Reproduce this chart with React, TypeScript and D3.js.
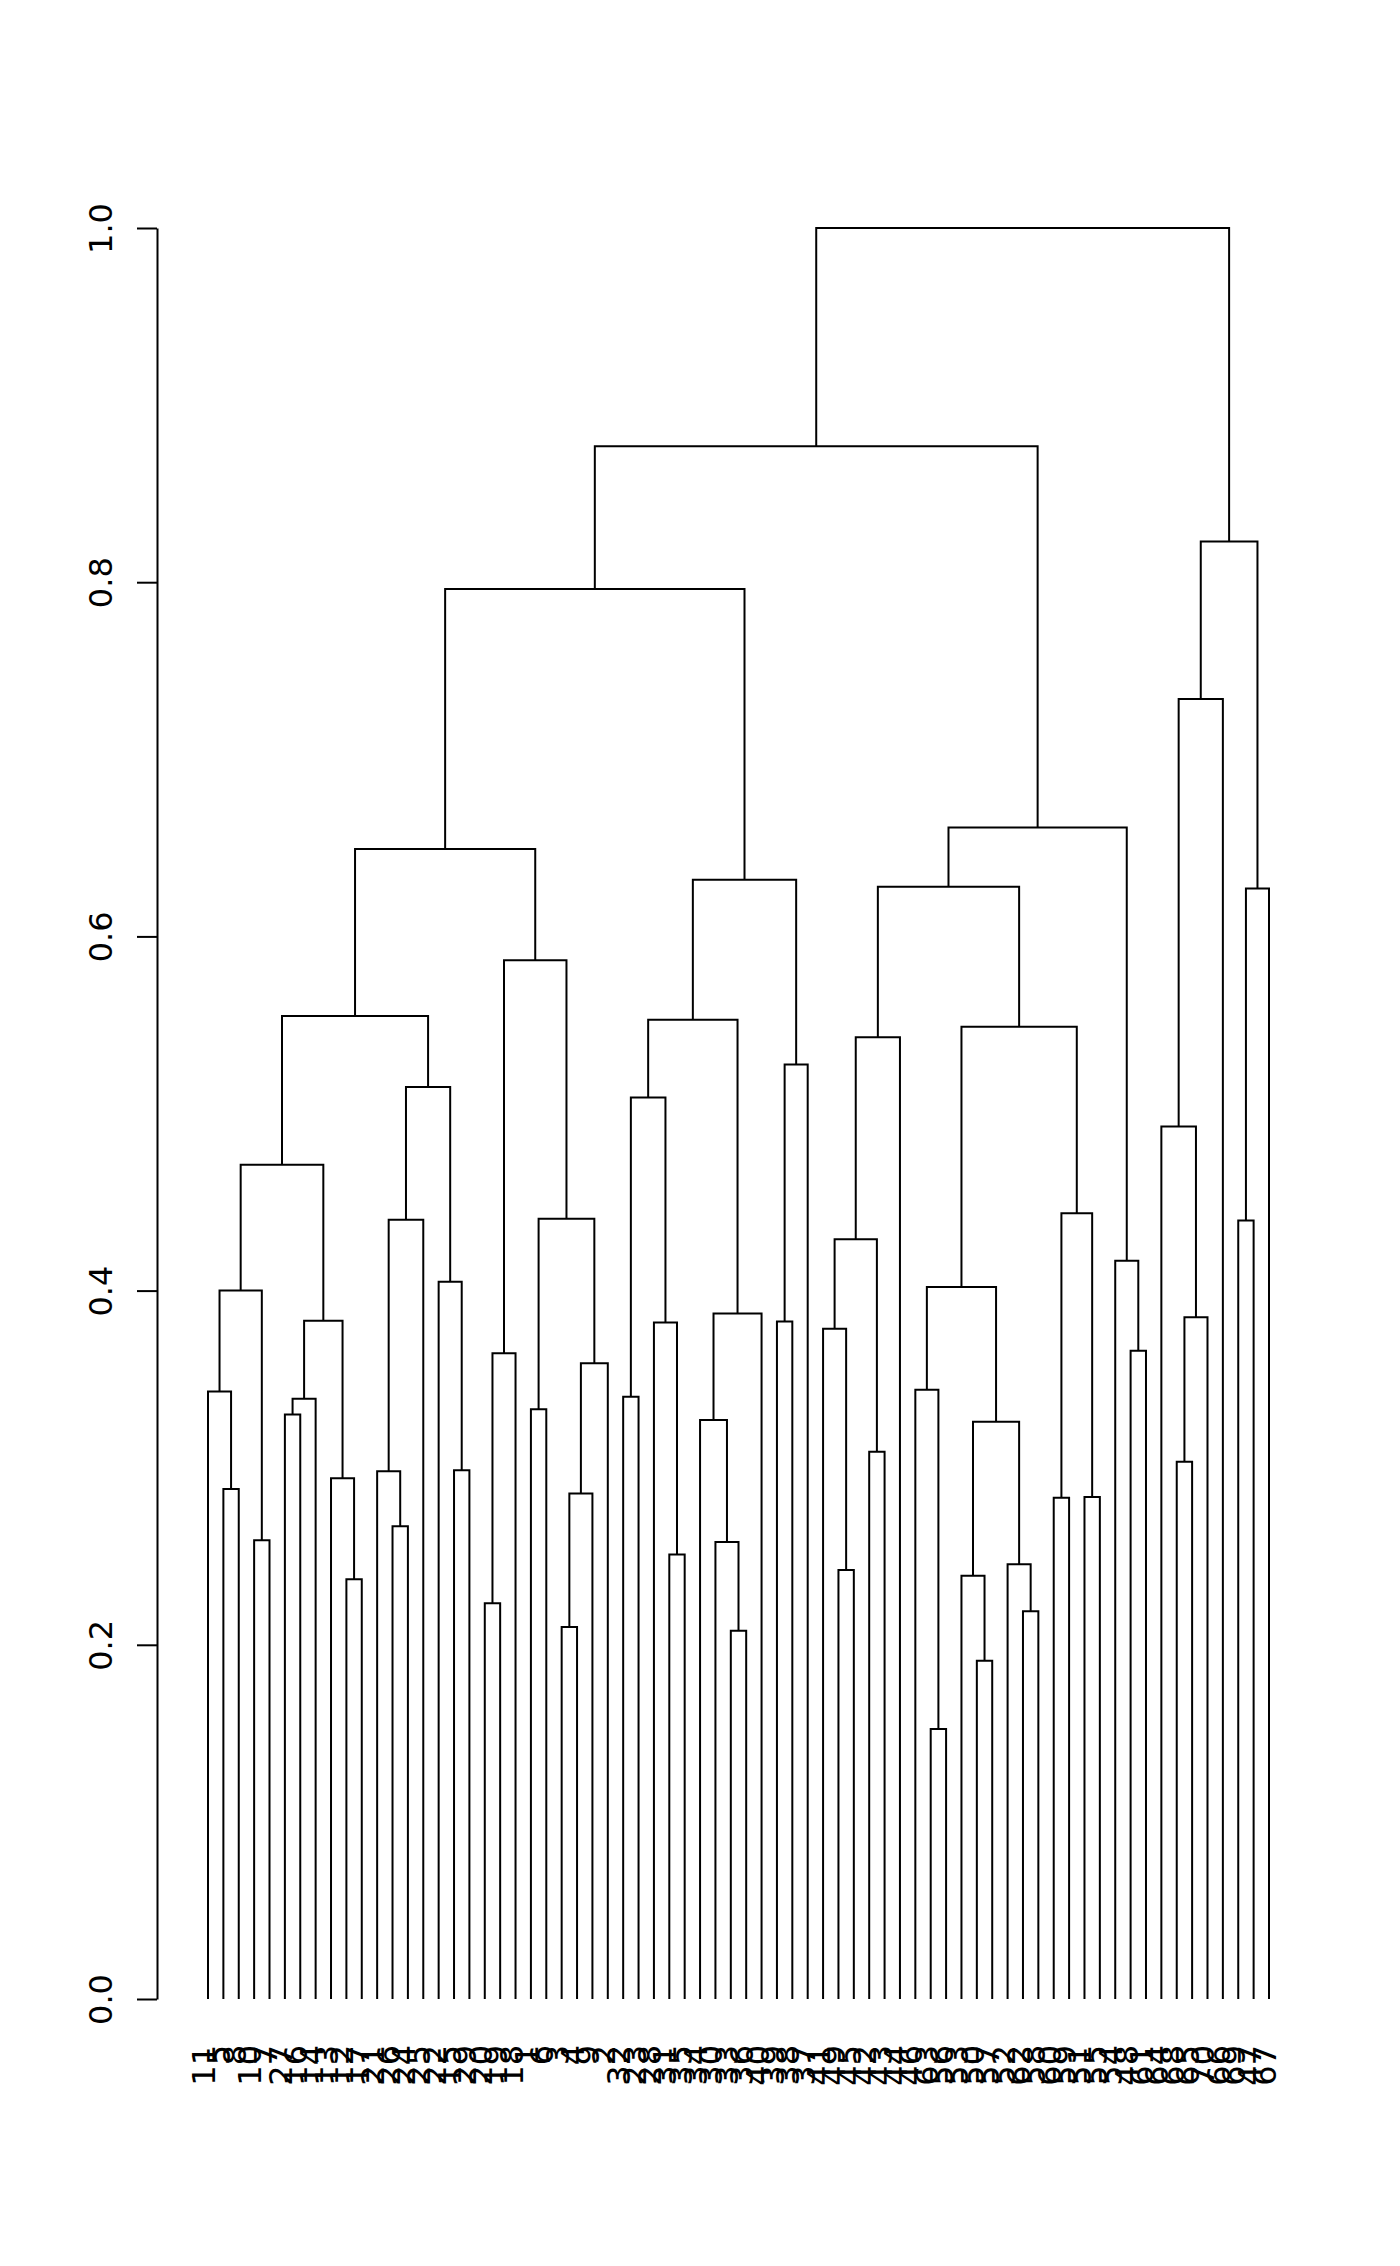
import { useEffect, useRef } from "react";
import * as d3 from "d3";

const WIDTH = 1400;
const HEIGHT = 2266;
const FONT = "DejaVu Sans, sans-serif";

// leaf labels, left to right
const LEAF_ORDER = [
  11, 5, 8, 10, 7, 27, 16, 14, 13, 12, 17, 21, 26, 24, 25, 22, 15, 29, 20, 19,
  18, 1, 6, 3, 4, 9, 2, 32, 23, 28, 31, 35, 34, 30, 33, 36, 40, 39, 38, 37,
  41, 49, 45, 42, 43, 44, 46, 63, 56, 53, 50, 57, 52, 62, 58, 60, 59, 51, 55, 54,
  48, 61, 64, 68, 65, 70, 66, 69, 47, 67,
];

// merges: [id, left, right, height]; numbers are leaf labels, strings are earlier merges
const MERGES: [string, number | string, number | string, number][] = [
  ["b6", 63, 56, 0.1525],
  ["b8", 50, 57, 0.191],
  ["a31", 33, 36, 0.208],
  ["a21", 3, 4, 0.21],
  ["b10", 62, 58, 0.219],
  ["a18", 20, 19, 0.2235],
  ["a7", 12, 17, 0.237],
  ["b9", 53, "b8", 0.239],
  ["b1", 49, 45, 0.2423],
  ["b11", 52, "b10", 0.2455],
  ["a28", 31, 35, 0.251],
  ["a32", 30, "a31", 0.258],
  ["a3", 10, 7, 0.259],
  ["a11", 26, 24, 0.267],
  ["b14", 60, 59, 0.283],
  ["b15", 51, 55, 0.2835],
  ["a22", "a21", 9, 0.2855],
  ["a1", 5, 8, 0.288],
  ["a8", 13, "a7", 0.294],
  ["a12", 21, "a11", 0.298],
  ["a14", 15, 29, 0.2985],
  ["c1", 68, 65, 0.3034],
  ["b3", 42, 43, 0.309],
  ["b12", "b9", "b11", 0.326],
  ["a33", 34, "a32", 0.327],
  ["a5", 27, 16, 0.33],
  ["a20", 1, 6, 0.333],
  ["a6", "a5", 14, 0.339],
  ["a27", 32, 23, 0.34],
  ["a2", 11, "a1", 0.343],
  ["b7", 46, "b6", 0.344],
  ["a23", "a22", 2, 0.359],
  ["a19", "a18", 18, 0.3646],
  ["b19", 48, 61, 0.366],
  ["b2", 41, "b1", 0.3785],
  ["a29", 28, "a28", 0.382],
  ["a36", 39, 38, 0.3825],
  ["a9", "a6", "a8", 0.383],
  ["c2", "c1", 70, 0.385],
  ["a34", "a33", 40, 0.387],
  ["a4", "a2", "a3", 0.4],
  ["b13", "b7", "b12", 0.402],
  ["a15", 22, "a14", 0.405],
  ["b20", 54, "b19", 0.4168],
  ["b4", "b2", "b3", 0.429],
  ["c5", 69, 47, 0.4396],
  ["a13", "a12", 25, 0.44],
  ["a24", "a20", "a23", 0.4405],
  ["b16", "b14", "b15", 0.4437],
  ["a10", "a4", "a9", 0.471],
  ["c3", 64, "c2", 0.4927],
  ["a30", "a27", "a29", 0.509],
  ["a16", "a13", "a15", 0.515],
  ["a37", "a36", 37, 0.5277],
  ["b5", "b4", 44, 0.543],
  ["b17", "b13", "b16", 0.549],
  ["a35", "a30", "a34", 0.553],
  ["a17", "a10", "a16", 0.555],
  ["a25", "a19", "a24", 0.5865],
  ["c6", "c5", 67, 0.627],
  ["b18", "b5", "b17", 0.628],
  ["a38", "a35", "a37", 0.632],
  ["a26", "a17", "a25", 0.6493],
  ["b21", "b18", "b20", 0.6615],
  ["c4", "c3", 66, 0.734],
  ["a39", "a26", "a38", 0.7961],
  ["c7", "c4", "c6", 0.823],
  ["b22", "a39", "b21", 0.8768],
  ["root", "b22", "c7", 1.0],
];

const Y_TICKS = [0, 0.2, 0.4, 0.6, 0.8, 1.0];

interface TreeNode {
  name: string;
  h: number;
  children?: TreeNode[];
}

export default function App() {
  const svgRef = useRef<SVGSVGElement>(null);

  useEffect(() => {
    const svg = d3.select(svgRef.current);
    svg.selectAll("*").remove();

    const x = d3.scaleLinear().domain([0, LEAF_ORDER.length - 1]).range([208, 1269]);
    const y = d3.scaleLinear().domain([0, 1]).range([1999, 228]);

    // build the tree from the merge table
    const byId = new Map(MERGES.map((m) => [m[0], m]));
    const build = (ref: number | string): TreeNode => {
      if (typeof ref === "number") return { name: String(ref), h: 0 };
      const m = byId.get(ref)!;
      return { name: ref, h: m[3], children: [build(m[1]), build(m[2])] };
    };
    const root = d3.hierarchy<TreeNode>(build("root"));
    const leafPos = new Map(LEAF_ORDER.map((l, i) => [String(l), i]));
    const px = new Map<any, number>();
    root.eachAfter((n) => {
      if (n.children) {
        px.set(n, (px.get(n.children[0])! + px.get(n.children[1])!) / 2);
      } else {
        px.set(n, leafPos.get(n.data.name)!);
      }
    });

    // branches
    const g = svg.append("g");
    root.each((n) => {
      if (!n.children) return;
      const [l, r] = n.children;
      g.append("path")
        .attr(
          "d",
          `M${x(px.get(l)!)},${y(l.data.h)}V${y(n.data.h)}H${x(px.get(r)!)}V${y(r.data.h)}`
        )
        .attr("fill", "none")
        .attr("stroke", "#000")
        .attr("stroke-width", 2);
    });

    // leaf labels
    root.leaves().forEach((n) => {
      const lx = x(px.get(n)!) + 7;
      const ly = 2045;
      svg
        .append("text")
        .attr("transform", `translate(${lx},${ly}) rotate(-90)`)
        .attr("text-anchor", "end")
        .attr("font-family", FONT)
        .attr("font-size", 32)
        .attr("fill", "#000")
        .text(n.data.name);
    });

    // y axis
    const axis = svg
      .append("g")
      .attr("transform", "translate(157,0)")
      .call(
        d3
          .axisLeft(y)
          .tickValues(Y_TICKS)
          .tickSizeInner(20)
          .tickSizeOuter(0)
          .tickFormat(d3.format(".1f"))
      );
    axis.select(".domain").attr("stroke", "#000").attr("stroke-width", 2);
    axis.selectAll(".tick line").attr("stroke", "#000").attr("stroke-width", 2);
    axis
      .selectAll(".tick text")
      .attr("x", null)
      .attr("dy", null)
      .attr("transform", "translate(-45,0) rotate(-90)")
      .attr("text-anchor", "middle")
      .attr("font-family", FONT)
      .attr("font-size", 32)
      .attr("fill", "#000");
  }, []);

  return (
    <svg
      ref={svgRef}
      width={WIDTH}
      height={HEIGHT}
      style={{ position: "absolute", left: 0, top: 0, background: "#fff" }}
    />
  );
}
